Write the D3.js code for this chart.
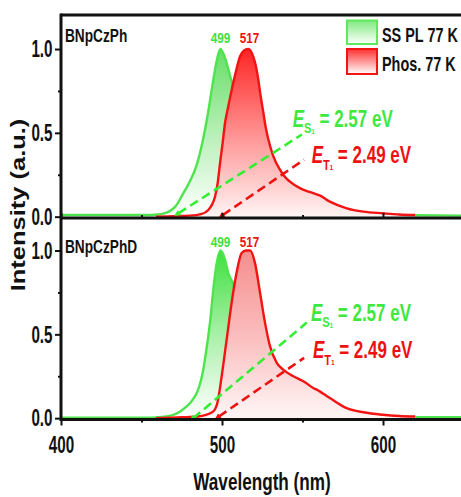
<!DOCTYPE html>
<html><head><meta charset="utf-8">
<script src="https://cdn.jsdelivr.net/npm/d3@7"></script>
<style>
body{margin:0;background:#fff;}
svg{display:block;font-family:"Liberation Sans",Arial,sans-serif;font-weight:bold;}
</style>
</head><body>
<svg id="c" width="461" height="497"></svg>
<script>
// ---------------- DATA ----------------
const panelNames = ["BNpCzPh", "BNpCzPhD"];
const seriesNames = ["SS PL 77 K", "Phos. 77 K"];
const peakPL = 499, peakPhos = 517;
const energyS1 = "2.57", energyT1 = "2.49";

const xTicks = [400, 500, 600];
const xMinorTicks = [450, 550, 650];
const yTicks = [0, 0.5, 1.0];
const yMinorTicks = [0.25, 0.75];

// Top panel (BNpCzPh)
const topPLWl  = [400, 430, 455, 462, 467, 471, 476, 480, 484, 488, 491, 494, 496.5, 498, 499, 500.5, 502.5, 505, 507.5, 510, 515, 520, 530, 540, 550, 560, 580, 600, 620, 650];
const topPLInt = [0.01, 0.01, 0.01, 0.015, 0.03, 0.06, 0.14, 0.21, 0.30, 0.45, 0.60, 0.78, 0.92, 0.98, 1.0, 0.98, 0.93, 0.84, 0.75, 0.62, 0.48, 0.36, 0.2, 0.12, 0.08, 0.05, 0.025, 0.012, 0.008, 0.006];
const topPhWl  = [459, 470, 480, 487, 491.5, 494, 495.7, 497.3, 498.8, 500.4, 501.9, 503.5, 505, 508, 511.2, 513.5, 516.3, 519.4, 521, 522.5, 524, 525.7, 527.2, 528.8, 531.9, 536, 538, 542, 548.4, 552, 556.7, 561, 567, 577.5, 587.8, 600, 610, 620];
const topPhInt = [0.0, 0.003, 0.006, 0.015, 0.04, 0.075, 0.12, 0.2, 0.32, 0.44, 0.56, 0.64, 0.71, 0.84, 0.955, 0.99, 1.0, 0.955, 0.9, 0.82, 0.72, 0.62, 0.53, 0.46, 0.36, 0.28, 0.25, 0.21, 0.17, 0.155, 0.14, 0.125, 0.09, 0.05, 0.03, 0.02, 0.013, 0.01];
// onset tangent lines [wavelength, intensity]
const topOnsetPL   = [[472.9, 0.02], [549.6, 0.49]];
const topOnsetPhos = [[500.5, 0.01], [551.0, 0.34]];

// Bottom panel (BNpCzPhD)
const botPLWl  = [400, 440, 455, 459.4, 465, 469.8, 474, 478, 481, 484.3, 486.5, 488.4, 490, 491.5, 493, 494.2, 496.7, 499.2, 501.9, 503.9, 507, 510, 515, 520, 530, 540, 550, 560, 580, 600, 620, 650];
const botPLInt = [0.003, 0.003, 0.003, 0.005, 0.01, 0.02, 0.04, 0.07, 0.1, 0.15, 0.21, 0.29, 0.39, 0.49, 0.61, 0.73, 0.925, 1.0, 0.945, 0.865, 0.80, 0.68, 0.5, 0.35, 0.18, 0.1, 0.06, 0.04, 0.02, 0.01, 0.006, 0.005];
const botPhWl  = [459, 475, 485, 490, 494.6, 497.1, 499.8, 502.9, 506, 509.1, 512.2, 515, 517.4, 520.5, 523.6, 526.7, 529.8, 534, 538, 544.3, 548.4, 550.5, 556.7, 558.8, 567, 577.4, 587.8, 600, 610, 620];
const botPhInt = [0.0, 0.005, 0.01, 0.02, 0.04, 0.09, 0.25, 0.47, 0.69, 0.87, 0.985, 1.0, 1.0, 0.925, 0.75, 0.57, 0.43, 0.33, 0.29, 0.25, 0.23, 0.22, 0.18, 0.17, 0.12, 0.06, 0.035, 0.02, 0.013, 0.01];
const botOnsetPL   = [[482.2, 0.0], [552.6, 0.57]];
const botOnsetPhos = [[498.1, 0.01], [551.0, 0.36]];

// ---------------- CHART ----------------
const svg = d3.select("#c");
const SX = 0.72; // horizontal squeeze of text
const GREEN = "#4de44d", RED = "#f21313";

const x = d3.scaleLinear().domain([400, 650]).range([61, 463.5]);
const yTop = d3.scaleLinear().domain([-0.008, 1.2]).range([218, 15.5]);
const yBot = d3.scaleLinear().domain([-0.008, 1.2]).range([419.5, 217]);

const defs = svg.append("defs");
function grad(id, y, c1, cMid, c2) {
  const g = defs.append("linearGradient").attr("id", id)
    .attr("gradientUnits", "userSpaceOnUse")
    .attr("x1", 0).attr("x2", 0).attr("y1", y(1.0)).attr("y2", y(0));
  g.append("stop").attr("offset", 0).attr("stop-color", c1);
  g.append("stop").attr("offset", 0.5).attr("stop-color", cMid);
  g.append("stop").attr("offset", 1).attr("stop-color", c2);
}
grad("gTopPL", yTop, "#66de66", "#b6f0b6", "#ffffff");
grad("gTopPh", yTop, "#ff2424", "#ff9090", "#fff4f4");
grad("gBotPL", yBot, "#3ee03e", "#a8f0a8", "#ffffff");
grad("gBotPh", yBot, "#f58e8e", "#fbbcbc", "#fff6f6");
function boxGrad(id, c1, c2) {
  const g = defs.append("linearGradient").attr("id", id)
    .attr("x1", 0).attr("x2", 0).attr("y1", 0).attr("y2", 1);
  g.append("stop").attr("offset", 0).attr("stop-color", c1);
  g.append("stop").attr("offset", 1).attr("stop-color", c2);
}
boxGrad("gLegPL", "#7fea7f", "#ffffff");
boxGrad("gLegPh", "#ff3030", "#ffffff");

function marker(id, color) {
  defs.append("marker").attr("id", id).attr("viewBox", "0 0 10 10")
    .attr("refX", 2).attr("refY", 5).attr("markerWidth", 2.4).attr("markerHeight", 2.4)
    .attr("orient", "auto-start-reverse").attr("markerUnits", "strokeWidth")
    .append("path").attr("d", "M0,0 L10,5 L0,10 z").attr("fill", color);
}
marker("mG", "#33ee33");
marker("mR", "#ee1111");

defs.append("clipPath").attr("id", "clipTop").append("rect")
  .attr("x", 61).attr("y", 15).attr("width", 402).attr("height", 203);
defs.append("clipPath").attr("id", "clipBot").append("rect")
  .attr("x", 61).attr("y", 218).attr("width", 402).attr("height", 201);

function drawPanel(y, clip, plWl, plInt, phWl, phInt, gPL, gPh, onPL, onPh) {
  const g = svg.append("g").attr("clip-path", `url(#${clip})`);
  const pl = plWl.map((w, i) => [w, plInt[i]]);
  const ph = phWl.map((w, i) => [w, phInt[i]]);
  const area = d3.area().x(d => x(d[0])).y0(y(0)).y1(d => y(d[1])).curve(d3.curveMonotoneX);
  const line = d3.line().x(d => x(d[0])).y(d => y(d[1])).curve(d3.curveMonotoneX);
  g.append("path").datum(pl).attr("d", area).attr("fill", `url(#${gPL})`);
  g.append("path").datum(pl).attr("d", line).attr("fill", "none").attr("stroke", GREEN).attr("stroke-width", 2.4);
  g.append("path").datum(ph).attr("d", area).attr("fill", `url(#${gPh})`);
  g.append("path").datum(ph).attr("d", line).attr("fill", "none").attr("stroke", RED).attr("stroke-width", 2.4);
  const l2 = d3.line().x(d => x(d[0])).y(d => y(d[1]));
  svg.append("path").datum(onPL).attr("d", l2).attr("fill", "none").attr("stroke", "#33ee33")
    .attr("stroke-width", 2.6).attr("stroke-dasharray", "9,5").attr("marker-start", "url(#mG)");
  svg.append("path").datum(onPh).attr("d", l2).attr("fill", "none").attr("stroke", "#ee1111")
    .attr("stroke-width", 2.6).attr("stroke-dasharray", "9,5").attr("marker-start", "url(#mR)");
}
drawPanel(yTop, "clipTop", topPLWl, topPLInt, topPhWl, topPhInt, "gTopPL", "gTopPh", topOnsetPL, topOnsetPhos);
drawPanel(yBot, "clipBot", botPLWl, botPLInt, botPhWl, botPhInt, "gBotPL", "gBotPh", botOnsetPL, botOnsetPhos);

function txt(px, py, size, color, s, anchor = "start", sx = SX) {
  return svg.append("text").attr("transform", `translate(${px},${py}) scale(${sx},1)`)
    .attr("font-size", size).attr("fill", color).attr("text-anchor", anchor).text(s);
}
function energy(px, py, color, sub, val) {
  const t = svg.append("text").attr("transform", `translate(${px},${py}) scale(0.74,1)`)
    .attr("fill", color).attr("font-size", 23);
  t.append("tspan").attr("font-style", "italic").text("E");
  t.append("tspan").attr("font-size", 15).attr("dy", 6.5).text(sub);
  t.append("tspan").attr("font-size", 8).attr("dy", 0.5).text("1");
  t.append("tspan").attr("dy", -7).text(" = " + val + " eV");
}

txt(65, 42, 19, "#111", panelNames[0], "start", 0.72);
txt(65, 252.5, 19, "#111", panelNames[1], "start", 0.72);
[[42.7], [246.5]].forEach(([by]) => {
  txt(x(peakPL), by, 15, "#3ee03e", String(peakPL), "middle", 0.78);
  txt(x(peakPhos), by, 15, "#ee1111", String(peakPhos), "middle", 0.78);
});
energy(292.7, 126.7, "#3ee83e", "S", energyS1);
energy(311.7, 163, "#ee1111", "T", energyT1);
energy(311, 320.7, "#3ee83e", "S", energyS1);
energy(313, 358, "#ee1111", "T", energyT1);

svg.append("rect").attr("x", 347).attr("y", 20.5).attr("width", 30).attr("height", 23.5)
  .attr("fill", "url(#gLegPL)").attr("stroke", "#5ee85e").attr("stroke-width", 2);
svg.append("rect").attr("x", 347).attr("y", 49).attr("width", 30).attr("height", 25)
  .attr("fill", "url(#gLegPh)").attr("stroke", "#f21313").attr("stroke-width", 2);
txt(382, 42, 19.5, "#111", seriesNames[0], "start", 0.74);
txt(382, 70.5, 19.5, "#111", seriesNames[1], "start", 0.74);

// ---------------- AXES ----------------
function styleAxis(g) {
  g.select(".domain").remove();
  g.selectAll(".tick line").attr("stroke", "#111").attr("stroke-width", 2);
}
const TS = 0.66;
[yTop, yBot].forEach(yy => {
  const gm = svg.append("g").attr("transform", "translate(61,0)")
    .call(d3.axisLeft(yy).tickValues(yTicks).tickSize(6).tickSizeOuter(0).tickFormat(d3.format(".1f")));
  styleAxis(gm);
  gm.selectAll(".tick text").attr("font-size", 23).attr("fill", "#111")
    .attr("font-family", "Liberation Sans, Arial, sans-serif").attr("font-weight", "bold")
    .attr("x", -8.5 / TS).attr("dy", "0.34em").attr("transform", `scale(${TS},1)`);
  const gn = svg.append("g").attr("transform", "translate(61,0)")
    .call(d3.axisLeft(yy).tickValues(yMinorTicks).tickSize(3).tickFormat(""));
  styleAxis(gn);
});
const gt = svg.append("g").attr("transform", "translate(0,218)")
  .call(d3.axisTop(x).tickValues(xTicks).tickSize(5).tickSizeOuter(0).tickFormat(""));
styleAxis(gt);
const gt2 = svg.append("g").attr("transform", "translate(0,218)")
  .call(d3.axisTop(x).tickValues(xMinorTicks).tickSize(3).tickSizeOuter(0).tickFormat(""));
styleAxis(gt2);
const gb = svg.append("g").attr("transform", "translate(0,419.5)")
  .call(d3.axisBottom(x).tickValues(xTicks).tickSize(6).tickSizeOuter(0).tickFormat(d3.format("d")));
styleAxis(gb);
gb.selectAll(".tick text").attr("font-size", 23).attr("fill", "#111")
  .attr("font-family", "Liberation Sans, Arial, sans-serif").attr("font-weight", "bold")
  .attr("y", 0).attr("dy", 34).attr("transform", `scale(${TS},1)`);
const gb2 = svg.append("g").attr("transform", "translate(0,419.5)")
  .call(d3.axisBottom(x).tickValues(xMinorTicks).tickSize(3).tickSizeOuter(0).tickFormat(""));
styleAxis(gb2);

const frame = [[61, 15, 463, 15], [61, 218, 463, 218], [61, 419.5, 463, 419.5], [61, 13.5, 61, 421]];
frame.forEach(f => svg.append("line").attr("x1", f[0]).attr("y1", f[1]).attr("x2", f[2]).attr("y2", f[3])
  .attr("stroke", "#111").attr("stroke-width", 3));

txt(262, 490, 23.5, "#111", "Wavelength (nm)", "middle", 0.73);
svg.append("text").attr("transform", "translate(25,205) rotate(-90) scale(1,0.76)")
  .attr("font-size", 25.5).attr("fill", "#111").attr("text-anchor", "middle").text("Intensity (a.u.)");
</script>
</body></html>
